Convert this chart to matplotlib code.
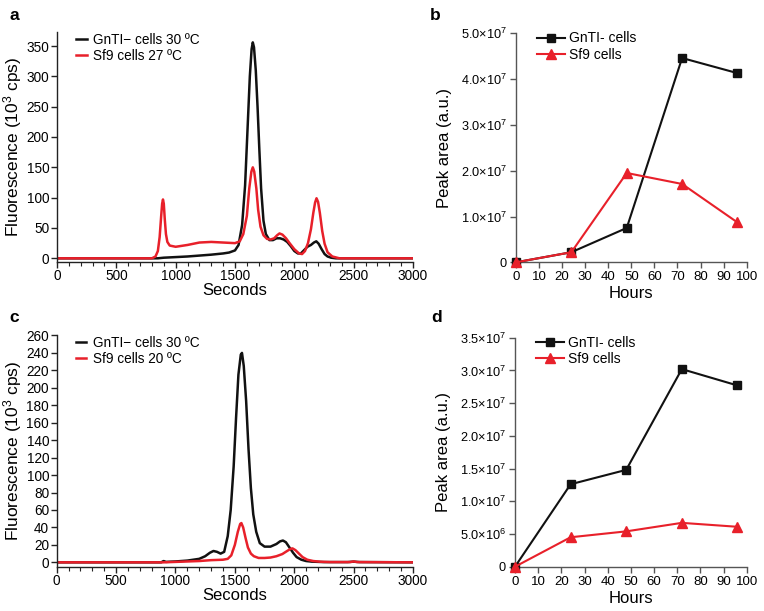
import numpy as np
import matplotlib
matplotlib.use("Agg")
import matplotlib.pyplot as plt

plt.rcParams['font.family'] = ['Liberation Sans', 'DejaVu Sans']
plt.rcParams['mathtext.fontset'] = 'custom'
plt.rcParams['mathtext.rm'] = 'Liberation Sans'
plt.rcParams['mathtext.it'] = 'Liberation Sans:italic'
plt.rcParams['mathtext.bf'] = 'Liberation Sans:bold'

RED = '#e8202a'
BLACK = '#111111'

# panel a: chromatograms (seconds, 10^3 cps)
a_gnt_t = [0, 850, 900, 1000, 1100, 1200, 1300, 1400, 1450, 1500, 1530, 1560, 1585, 1605,
           1625, 1640, 1650, 1660, 1675, 1690, 1705, 1720, 1740, 1760, 1790, 1820, 1850,
           1880, 1910, 1940, 1970, 2000, 2030, 2055, 2080, 2110, 2140, 2165, 2185, 2205,
           2230, 2255, 2280, 2310, 2350, 3000]
a_gnt_v = [0, 0, 1, 2, 3, 4.5, 6, 8, 9.5, 13, 22, 55, 120, 210, 300, 345, 356, 348, 310,
           250, 180, 115, 62, 40, 30, 30, 33, 33, 31, 27, 20, 12, 8, 8, 13, 19, 22, 26, 28,
           24, 15, 7, 3, 1, 0, 0]
a_sf9_t = [0, 800, 830, 850, 865, 878, 886, 893, 900, 908, 918, 930, 950, 1000, 1100, 1200,
           1300, 1400, 1500, 1540, 1570, 1600, 1620, 1638, 1650, 1662, 1680, 1695, 1715,
           1740, 1770, 1800, 1830, 1855, 1875, 1900, 1930, 1960, 2000, 2040, 2065, 2090,
           2115, 2140, 2160, 2175, 2187, 2200, 2215, 2235, 2255, 2280, 2320, 2380, 3000]
a_sf9_v = [0, 0, 3, 12, 35, 70, 90, 97, 90, 65, 40, 27, 21, 19, 22, 26, 27, 26, 25, 28, 40,
           70, 115, 143, 150, 143, 115, 80, 52, 38, 32, 31, 33, 38, 41, 39, 33, 25, 15, 8,
           7, 12, 25, 48, 75, 92, 99, 93, 75, 45, 24, 10, 3, 0, 0]

# panel c: chromatograms
c_gnt_t = [0, 880, 900, 920, 1000, 1100, 1200, 1250, 1290, 1320, 1350, 1380, 1410, 1440,
           1465, 1490, 1510, 1530, 1550, 1560, 1575, 1595, 1615, 1635, 1655, 1680, 1710,
           1750, 1800, 1850, 1880, 1905, 1930, 1960, 1990, 2020, 2060, 2100, 2150, 2250,
           2450, 2500, 2550, 3000]
c_gnt_v = [0, 0, 1.5, 0.5, 1, 2, 4, 7, 11, 13, 12, 10, 12, 30, 60, 110, 165, 215, 238, 240,
           225, 185, 130, 85, 55, 35, 22, 18, 18, 21, 24, 25, 23, 17, 11, 6, 3, 1.5, 0.8,
           0.3, 0.3, 0.8, 0.3, 0]
c_sf9_t = [0, 900, 1000, 1100, 1200, 1300, 1400, 1440, 1470, 1500, 1525, 1545, 1555, 1570,
           1590, 1610, 1635, 1660, 1700, 1750, 1800, 1850, 1900, 1940, 1970, 1985, 2010,
           2040, 2070, 2110, 2160, 2220, 2300, 2470, 2500, 2530, 3000]
c_sf9_v = [0, 0, 0.5, 1, 1.5, 2.5, 3, 4, 8, 20, 35, 44, 45, 40, 28, 17, 10, 7, 5, 5, 5.5,
           7, 9.5, 13, 15.5, 16, 14, 10, 6, 3, 1.5, 0.7, 0.3, 0.3, 1, 0.3, 0]

# panels b, d: peak area vs hours
hours = [0, 24, 48, 72, 96]
b_gnt = [0, 2.2e6, 7.5e6, 4.46e7, 4.13e7]
b_sf9 = [0, 2.2e6, 1.95e7, 1.71e7, 8.7e6]
d_gnt = [0, 1.26e7, 1.48e7, 3.02e7, 2.77e7]
d_sf9 = [0, 4.5e6, 5.4e6, 6.7e6, 6.1e6]

b_ticks = [0, 1e7, 2e7, 3e7, 4e7, 5e7]
b_labels = ['0', '1.0×10$^{\\mathrm{7}}$', '2.0×10$^{\\mathrm{7}}$', '3.0×10$^{\\mathrm{7}}$',
            '4.0×10$^{\\mathrm{7}}$', '5.0×10$^{\\mathrm{7}}$']
d_ticks = [0, 5e6, 1e7, 1.5e7, 2e7, 2.5e7, 3e7, 3.5e7]
d_labels = ['0', '5.0×10$^{\\mathrm{6}}$', '1.0×10$^{\\mathrm{7}}$', '1.5×10$^{\\mathrm{7}}$',
            '2.0×10$^{\\mathrm{7}}$', '2.5×10$^{\\mathrm{7}}$', '3.0×10$^{\\mathrm{7}}$',
            '3.5×10$^{\\mathrm{7}}$']

W, H = 764, 611
fig = plt.figure(figsize=(W / 100, H / 100), dpi=100)


def rect(x0, x1, ytop, ybot):
    return [x0 / W, 1 - ybot / H, (x1 - x0) / W, (ybot - ytop) / H]


def chrom(ax, gt, gv, st, sv, ylim, ystep, labels):
    ax.plot(gt, gv, color=BLACK, lw=1.8, label=labels[0])
    ax.plot(st, sv, color=RED, lw=1.8, label=labels[1])
    ax.set_xlim(0, 3000)
    ax.set_ylim(*ylim)
    ax.set_xticks(np.arange(0, 3001, 500))
    ax.set_xticks(np.arange(0, 3001, 100), minor=True)
    ax.set_yticks(np.arange(0, ylim[1], ystep))
    for s in ['top', 'right']:
        ax.spines[s].set_visible(False)
    for s in ['left', 'bottom']:
        ax.spines[s].set_linewidth(1.0)
        ax.spines[s].set_color('#222222')
    ax.tick_params(which='major', length=4, width=1.0, labelsize=9.8, color='#222222',
                   pad=1.5)
    ax.tick_params(which='minor', length=3, width=0.8, color='#222222')
    ax.set_xlabel('Seconds', fontsize=12)
    ax.set_ylabel('Fluorescence (10$^{\\mathrm{3}}$ cps)', fontsize=12.5)
    ax.xaxis.set_label_coords(0.5, -0.092)
    ax.yaxis.set_label_coords(-0.093, 0.5)
    ax.xaxis.label.set_va('top')
    ax.legend(loc='upper left', bbox_to_anchor=(0.053, 0.995), frameon=False,
              fontsize=9.8, handlelength=0.8, handletextpad=0.45, labelspacing=0.15,
              borderpad=0, borderaxespad=0)


def timecourse(ax, gnt, sf9, ticks, labels):
    ax.plot(hours, gnt, color=BLACK, lw=1.5, marker='s', ms=5.5, label='GnTI- cells',
            clip_on=False, zorder=3)
    ax.plot(hours, sf9, color=RED, lw=1.5, marker='^', ms=6.5, label='Sf9 cells',
            clip_on=False, zorder=4)
    ax.set_xlim(0, 100)
    ax.set_ylim(0, ticks[-1])
    ax.set_xticks(np.arange(0, 101, 10))
    ax.set_yticks(ticks)
    ax.set_yticklabels(labels)
    for s in ['top', 'right']:
        ax.spines[s].set_visible(False)
    for s in ['left', 'bottom']:
        ax.spines[s].set_linewidth(1.0)
        ax.spines[s].set_color('#555555')
    ax.tick_params(axis='x', length=4, width=1.0, labelsize=9.5, color='#555555', pad=2.5)
    ax.tick_params(axis='y', length=4, width=1.0, labelsize=9.2, color='#555555', pad=2.5)
    ax.set_xlabel('Hours', fontsize=12)
    ax.set_ylabel('Peak area (a.u.)', fontsize=12)
    ax.xaxis.set_label_coords(0.5, -0.105)
    ax.yaxis.set_label_coords(-0.277, 0.5)
    ax.xaxis.label.set_va('top')
    ax.legend(loc='upper left', bbox_to_anchor=(0.09, 1.008), frameon=False,
              fontsize=10, handlelength=2.0, handletextpad=0.3, labelspacing=0.15,
              borderpad=0, borderaxespad=0)


ax_a = fig.add_axes(rect(57, 413, 31.7, 261.7))
chrom(ax_a, a_gnt_t, a_gnt_v, a_sf9_t, a_sf9_v, (-5.6, 373.6), 50,
      ['GnTI− cells 30 ºC', 'Sf9 cells 27 ºC'])

ax_c = fig.add_axes(rect(56.7, 413, 335, 566.7))
chrom(ax_c, c_gnt_t, c_gnt_v, c_sf9_t, c_sf9_v, (-5.0, 260.5), 20,
      ['GnTI− cells 30 ºC', 'Sf9 cells 20 ºC'])

ax_b = fig.add_axes(rect(516, 746.7, 33.3, 262.3))
timecourse(ax_b, b_gnt, b_sf9, b_ticks, b_labels)

ax_d = fig.add_axes(rect(515, 746.7, 337.7, 566.7))
timecourse(ax_d, d_gnt, d_sf9, d_ticks, d_labels)

for lab, x, y in [('a', 14, 15), ('b', 435, 15), ('c', 14, 317), ('d', 437, 317)]:
    fig.text(x / W, 1 - y / H, lab, fontsize=12.5, fontweight='bold', ha='center',
             va='center')

fig.savefig('out.png', dpi=100)
